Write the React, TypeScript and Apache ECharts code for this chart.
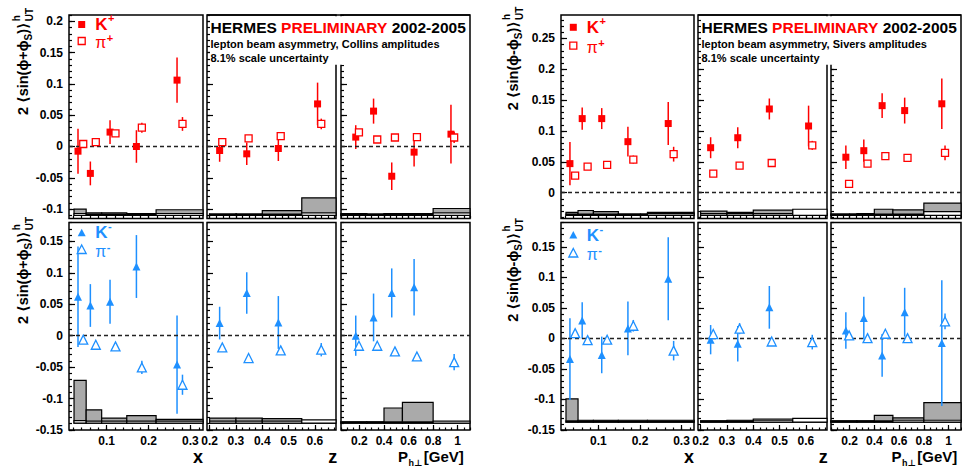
import React, { useEffect, useRef } from "react";
import * as echarts from "echarts";

const RED = "#ff0000";
const BLUE = "#1e90ff";
const FONT = "'Liberation Sans', Arial, Helvetica, 'DejaVu Sans', sans-serif";

// ---------- bin centres (kinematic variable of each point) ----------
const xK = [0.0315, 0.061, 0.108, 0.171, 0.268];
const xPi = [0.044, 0.074, 0.121, 0.184, 0.281];
const zK = [0.238, 0.341, 0.461, 0.610];
const zPi = [0.248, 0.348, 0.470, 0.624];
const pK = [0.170, 0.315, 0.463, 0.645, 0.945];
const pPi = [0.196, 0.345, 0.489, 0.668, 0.971];

// ---------- bin edges of the systematic bands ----------
const xEdges = [0.022, 0.051, 0.088, 0.148, 0.218, 0.33];
const zEdges = [0.2, 0.3, 0.4, 0.55, 0.68];
const pEdges = [0.05, 0.26, 0.4, 0.55, 0.8, 1.1];

// ---------- tick labels ----------
const xMajor = [0.1, 0.2, 0.3];
const zMajor = [0.2, 0.3, 0.4, 0.5, 0.6];
const pMajor = [0.2, 0.4, 0.6, 0.8, 1];
const yMajCollinsTop = [-0.1, -0.05, 0, 0.05, 0.1, 0.15, 0.2];
const yMajBottom = [-0.15, -0.1, -0.05, 0, 0.05, 0.1, 0.15];
const yMajSiversTop = [0, 0.05, 0.1, 0.15, 0.2, 0.25];

// ---------- Collins amplitudes ----------
const colKpX = [-0.0075, -0.043, 0.023, 0.0, 0.106];
const colKpXErr = [0.036, 0.019, 0.019, 0.026, 0.036];
const colKpZ = [-0.0064, -0.0117, -0.0032, 0.068];
const colKpZErr = [0.018, 0.018, 0.02, 0.034];
const colKpP = [0.015, 0.0565, -0.0475, -0.009, 0.0197];
const colKpPErr = [0.019, 0.02, 0.022, 0.023, 0.047];
const colPipX = [0.004, 0.007, 0.021, 0.03, 0.036];
const colPipXErr = [0.003, 0.003, 0.004, 0.008, 0.011];
const colPipZ = [0.007, 0.013, 0.0165, 0.036];
const colPipZErr = [0.003, 0.003, 0.003, 0.0085];
const colPipP = [0.0224, 0.0112, 0.0144, 0.015, 0.0144];
const colPipPErr = [0.003, 0.003, 0.003, 0.003, 0.009];

const colKmX = [0.062, 0.048, 0.054, 0.11, -0.046];
const colKmXErr = [0.08, 0.034, 0.035, 0.05, 0.078];
const colKmZ = [0.02, 0.068, 0.021];
const colKmZErr = [0.026, 0.033, 0.042];
const colKmP = [0.0, 0.029, 0.068, 0.077];
const colKmPErr = [0.032, 0.038, 0.039, 0.045];
const colPimX = [-0.0064, -0.0144, -0.017, -0.0505, -0.078];
const colPimXErr = [0.004, 0.004, 0.004, 0.0106, 0.016];
const colPimZ = [-0.0186, -0.0356, -0.0234, -0.0223];
const colPimZErr = [0.004, 0.004, 0.004, 0.0106];
const colPimP = [-0.016, -0.016, -0.025, -0.033, -0.042];
const colPimPErr = [0.004, 0.004, 0.004, 0.005, 0.013];

// systematic bands (heights above the band baseline)
const colSysKpX = [0.01, 0.004, 0.004, 0.003, 0.009];
const colSysPipX = [0.003, 0.002, 0.002, 0.002, 0.003];
const colSysKpZ = [0.002, 0.002, 0.0076, 0.028];
const colSysPipZ = [0.002, 0.002, 0.002, 0.004];
const colSysKpP = [0.003, 0.002, 0.003, 0.003, 0.011];
const colSysPipP = [0.002, 0.002, 0.002, 0.002, 0.004];
const colSysKmX = [0.068, 0.021, 0.008, 0.012, 0.006];
const colSysPimX = [0.004, 0.003, 0.003, 0.003, 0.003];
const colSysKmZ = [0.008, 0.008, 0.007, 0.0];
const colSysPimZ = [0.003, 0.003, 0.003, 0.005];
const colSysKmP = [0.002, 0.002, 0.024, 0.033, 0.0];
const colSysPimP = [0.002, 0.002, 0.002, 0.002, 0.003];

// ---------- Sivers amplitudes ----------
const sivKpX = [0.047, 0.12, 0.12, 0.0826, 0.112];
const sivKpXErr = [0.035, 0.018, 0.017, 0.024, 0.035];
const sivKpZ = [0.0728, 0.089, 0.1356, 0.108];
const sivKpZErr = [0.017, 0.017, 0.017, 0.033];
const sivKpP = [0.0574, 0.068, 0.141, 0.133, 0.144];
const sivKpPErr = [0.019, 0.018, 0.02, 0.021, 0.041];
const sivPipX = [0.0274, 0.042, 0.045, 0.0536, 0.0623];
const sivPipXErr = [0.004, 0.004, 0.004, 0.0065, 0.012];
const sivPipZ = [0.0307, 0.0438, 0.048, 0.0766];
const sivPipZErr = [0.003, 0.003, 0.003, 0.0073];
const sivPipP = [0.0143, 0.047, 0.059, 0.0564, 0.0645];
const sivPipPErr = [0.003, 0.003, 0.003, 0.004, 0.012];

const sivKmX = [-0.0338, 0.0295, -0.027, 0.0164, 0.098];
const sivKmXErr = [0.067, 0.03, 0.03, 0.044, 0.068];
const sivKmZ = [-0.002, -0.0087, 0.051];
const sivKmZErr = [0.024, 0.029, 0.035];
const sivKmP = [0.0131, 0.0334, -0.0279, 0.043, -0.0076];
const sivKmPErr = [0.03, 0.035, 0.035, 0.04, 0.103];
const sivPimX = [0.0088, -0.0027, -0.002, 0.0208, -0.02];
const sivPimXErr = [0.004, 0.004, 0.004, 0.0095, 0.016];
const sivPimZ = [0.0072, 0.016, -0.005, -0.006];
const sivPimZErr = [0.004, 0.009, 0.004, 0.012];
const sivPimP = [0.005, 0.0006, 0.0077, 0.0006, 0.0279];
const sivPimPErr = [0.004, 0.004, 0.004, 0.004, 0.013];

const sivSysKpX = [0.005, 0.008, 0.006, 0.002, 0.005];
const sivSysPipX = [0.002, 0.002, 0.002, 0.002, 0.003];
const sivSysKpZ = [0.007, 0.005, 0.0085, 0.003];
const sivSysPipZ = [0.003, 0.003, 0.003, 0.01];
const sivSysKpP = [0.002, 0.003, 0.01, 0.009, 0.02];
const sivSysPipP = [0.002, 0.002, 0.002, 0.002, 0.006];
const sivSysKmX = [0.038, 0.003, 0.003, 0.003, 0.003];
const sivSysPimX = [0.002, 0.002, 0.002, 0.002, 0.002];
const sivSysKmZ = [0.002, 0.003, 0.005, 0.0];
const sivSysPimZ = [0.002, 0.002, 0.003, 0.006];
const sivSysKmP = [0.002, 0.002, 0.011, 0.007, 0.032];
const sivSysPimP = [0.002, 0.002, 0.002, 0.003, 0.003];

function ticks(a: number, b: number, step: number) {
  const out: number[] = [];
  const n = Math.round((b - a) / step);
  for (let i = 0; i <= n; i++) out.push(+(a + i * step).toFixed(4));
  return out;
}

let ctx: CanvasRenderingContext2D | null = null;
function tw(text: string, size: number, weight = "bold") {
  if (!ctx) ctx = document.createElement("canvas").getContext("2d");
  ctx!.font = `${weight} ${size}px ${FONT}`;
  return ctx!.measureText(text).width;
}

function txt(x: number, y: number, text: string, size: number, fill = "#000", weight = "bold", align = "left") {
  return {
    type: "text",
    x,
    y,
    z: 101,
    silent: true,
    style: { text, fontSize: size, fontWeight: weight, fontFamily: FONT, fill, align, verticalAlign: "middle" },
  };
}

function yTitle(cx: number, yCenter: number, sign: string) {
  const big = 14.5;
  const small = 10;
  const s1 = `2 \u27E8sin(\u03D5${sign}\u03D5`;
  const s2 = ")\u27E9";
  const w1 = tw(s1, big);
  const wS = tw("S", small);
  const w2 = tw(s2, big);
  const wUT = tw("UT", small);
  const total = w1 + wS + w2 + 1 + wUT;
  const children = [
    txt(0, 0, s1, big),
    txt(w1, 5, "S", small),
    txt(w1 + wS, 0, s2, big),
    txt(w1 + wS + w2 + 1, -7, "h", small),
    txt(w1 + wS + w2 + 1, 6, "UT", small),
  ];
  return { type: "group", x: cx, y: yCenter + total / 2, rotation: Math.PI / 2, z: 101, children };
}

function histRender(fill: string) {
  return (params: any, api: any) => {
    const x0 = api.value(0);
    const x1 = api.value(1);
    const b = api.value(2);
    const h = api.value(3);
    const p0 = api.coord([x0, b]);
    const p1 = api.coord([x1, b + h]);
    return {
      type: "rect",
      shape: { x: p0[0], y: p1[1], width: p1[0] - p0[0], height: p0[1] - p1[1] },
      style: { fill, stroke: "#000", lineWidth: 1.2 },
    };
  };
}

function errRender(color: string) {
  return (params: any, api: any) => {
    const x = api.value(0);
    const y = api.value(1);
    const e = api.value(2);
    const a = api.coord([x, y - e]);
    const b = api.coord([x, y + e]);
    return {
      type: "line",
      shape: { x1: a[0], y1: a[1], x2: b[0], y2: b[1] },
      style: { stroke: color, lineWidth: 1.5 },
    };
  };
}

function buildOption() {
  const cols = [
    { min: 0.01, max: 0.33, major: xMajor, minor: ticks(0.02, 0.32, 0.02), kPos: xK, piPos: xPi, edges: xEdges },
    { min: 0.19, max: 0.68, major: zMajor, minor: ticks(0.2, 0.675, 0.025), kPos: zK, piPos: zPi, edges: zEdges },
    { min: 0.05, max: 1.1, major: pMajor, minor: ticks(0.05, 1.1, 0.05), kPos: pK, piPos: pPi, edges: pEdges },
  ];
  const rowTop = [15, 222.5];
  const rowH = [203.5, 207.5];

  const figs = [
    {
      left: [69, 207, 341],
      width: [134, 129, 129],
      rows: [
        {
          yMin: -0.115, yMax: 0.21, major: yMajCollinsTop, base: -0.11, color: RED, kSym: "rect", kSize: 7, piSym: "rect", piSize: 7,
          K: [colKpX, colKpZ, colKpP], KErr: [colKpXErr, colKpZErr, colKpPErr],
          Pi: [colPipX, colPipZ, colPipP], PiErr: [colPipXErr, colPipZErr, colPipPErr],
          sysK: [colSysKpX, colSysKpZ, colSysKpP], sysPi: [colSysPipX, colSysPipZ, colSysPipP],
        },
        {
          yMin: -0.15, yMax: 0.18, major: yMajBottom, base: -0.139, color: BLUE, kSym: "triangle", kSize: 8, piSym: "triangle", piSize: 9,
          K: [colKmX, colKmZ, colKmP], KErr: [colKmXErr, colKmZErr, colKmPErr],
          Pi: [colPimX, colPimZ, colPimP], PiErr: [colPimXErr, colPimZErr, colPimPErr],
          sysK: [colSysKmX, colSysKmZ, colSysKmP], sysPi: [colSysPimX, colSysPimZ, colSysPimP],
        },
      ],
    },
    {
      left: [561, 698, 831],
      width: [133, 129, 130],
      rows: [
        {
          yMin: -0.042, yMax: 0.288, major: yMajSiversTop, base: -0.037, color: RED, kSym: "rect", kSize: 7, piSym: "rect", piSize: 7,
          K: [sivKpX, sivKpZ, sivKpP], KErr: [sivKpXErr, sivKpZErr, sivKpPErr],
          Pi: [sivPipX, sivPipZ, sivPipP], PiErr: [sivPipXErr, sivPipZErr, sivPipPErr],
          sysK: [sivSysKpX, sivSysKpZ, sivSysKpP], sysPi: [sivSysPipX, sivSysPipZ, sivSysPipP],
        },
        {
          yMin: -0.15, yMax: 0.19, major: yMajBottom, base: -0.137, color: BLUE, kSym: "triangle", kSize: 8, piSym: "triangle", piSize: 9,
          K: [sivKmX, sivKmZ, sivKmP], KErr: [sivKmXErr, sivKmZErr, sivKmPErr],
          Pi: [sivPimX, sivPimZ, sivPimP], PiErr: [sivPimXErr, sivPimZErr, sivPimPErr],
          sysK: [sivSysKmX, sivSysKmZ, sivSysKmP], sysPi: [sivSysPimX, sivSysPimZ, sivSysPimP],
        },
      ],
    },
  ];

  const grid: any[] = [];
  const xAxis: any[] = [];
  const yAxis: any[] = [];
  const series: any[] = [];
  const fmt = (v: number) => String(+(+v).toFixed(3));
  const tickStyle = { color: "#000", width: 1.2 };
  let gi = 0;

  figs.forEach((fig) => {
    fig.rows.forEach((row, r) => {
      cols.forEach((col, c) => {
        grid.push({
          left: fig.left[c], width: fig.width[c], top: rowTop[r], height: rowH[r],
          show: true, borderColor: "#000", borderWidth: 1.5, backgroundColor: "transparent",
        });
        const xb = { type: "value", gridIndex: gi, min: col.min, max: col.max, position: "bottom", axisLine: { show: false, onZero: false }, splitLine: { show: false } };
        xAxis.push({
          ...xb,
          axisTick: { show: true, inside: true, length: 5, customValues: col.major, lineStyle: tickStyle },
          axisLabel: { show: r === 1, customValues: col.major, formatter: fmt, margin: 5, color: "#000", fontWeight: "bold", fontSize: 12, fontFamily: FONT },
        });
        xAxis.push({
          ...xb,
          axisTick: { show: true, inside: true, length: 2.5, customValues: col.minor, lineStyle: tickStyle },
          axisLabel: { show: false },
        });
        const yb = { type: "value", gridIndex: gi, min: row.yMin, max: row.yMax, position: "left", axisLine: { show: false, onZero: false }, splitLine: { show: false } };
        yAxis.push({
          ...yb,
          axisTick: { show: true, inside: true, length: 6, customValues: row.major, lineStyle: tickStyle },
          axisLabel: { show: c === 0, customValues: row.major, formatter: fmt, margin: 6, color: "#000", fontWeight: "bold", fontSize: 12, fontFamily: FONT },
        });
        yAxis.push({
          ...yb,
          axisTick: { show: true, inside: true, length: 3, customValues: ticks(Math.ceil(row.yMin * 100) / 100, Math.floor(row.yMax * 100) / 100, 0.01), lineStyle: tickStyle },
          axisLabel: { show: false },
        });

        const xi = 2 * gi;
        const yi = 2 * gi;
        const edges = col.edges;
        const sysK = row.sysK[c];
        const sysPi = row.sysPi[c];
        series.push({
          type: "custom", xAxisIndex: xi, yAxisIndex: yi, z: 2, silent: true,
          renderItem: histRender("#aaaaaa"), encode: { x: [0, 1], y: [2, 3] },
          data: sysK.map((h, i) => [edges[i], edges[i + 1], row.base, h]),
        });
        series.push({
          type: "custom", xAxisIndex: xi, yAxisIndex: yi, z: 3, silent: true,
          renderItem: histRender("#ffffff"), encode: { x: [0, 1], y: [2, 3] },
          data: sysPi.map((h, i) => [edges[i], edges[i + 1], row.base, h]),
        });
        const kv = row.K[c];
        const ke = row.KErr[c];
        const pv = row.Pi[c];
        const pe = row.PiErr[c];
        series.push({
          type: "custom", xAxisIndex: xi, yAxisIndex: yi, z: 4, silent: true,
          renderItem: errRender(row.color), encode: { x: 0, y: 1 },
          data: kv.map((v, i) => [col.kPos[i], v, ke[i]]),
        });
        series.push({
          type: "custom", xAxisIndex: xi, yAxisIndex: yi, z: 4, silent: true,
          renderItem: errRender(row.color), encode: { x: 0, y: 1 },
          data: pv.map((v, i) => [col.piPos[i], v, pe[i]]),
        });
        series.push({
          type: "scatter", xAxisIndex: xi, yAxisIndex: yi, z: 5, silent: true,
          symbol: row.kSym, symbolSize: row.kSize,
          itemStyle: { color: row.color, opacity: 1 },
          data: kv.map((v, i) => [col.kPos[i], v]),
          markLine: {
            silent: true, symbol: ["none", "none"], label: { show: false },
            lineStyle: { type: [4, 3], color: "#222", width: 1.3 },
            data: [{ yAxis: 0 }],
          },
        });
        series.push({
          type: "scatter", xAxisIndex: xi, yAxisIndex: yi, z: 5, silent: true,
          symbol: row.piSym, symbolSize: row.piSize,
          itemStyle: { color: "#ffffff", borderColor: row.color, borderWidth: 1.3, opacity: 1 },
          data: pv.map((v, i) => [col.piPos[i], v]),
        });
        gi++;
      });
    });
  });

  // ---------- graphic overlays: title panes, legends, axis titles ----------
  const g: any[] = [];
  const pane = (x0: number, x1: number, label: string) => {
    g.push({ type: "rect", z: 100, silent: true, shape: { x: x0 + 3, y: 16.3, width: x1 - x0 - 4.5, height: 48.4 }, style: { fill: "#fff" } });
    g.push({ type: "line", z: 100, silent: true, shape: { x1: x0, y1: 15, x2: x1, y2: 15 }, style: { stroke: "#000", lineWidth: 1.5 } });
    const tx = x0 + 3.5;
    const s = 15.5;
    const w1 = tw("HERMES ", s);
    const w2 = tw("PRELIMINARY", s);
    g.push(txt(tx, 27, "HERMES ", s));
    g.push(txt(tx + w1, 27, "PRELIMINARY", s, RED));
    g.push(txt(tx + w1 + w2, 27, " 2002-2005", s));
    g.push(txt(tx, 43.5, `lepton beam asymmetry, ${label} amplitudes`, 11));
    g.push(txt(tx, 57.5, "8.1% scale uncertainty", 11));
  };
  pane(207, 470, "Collins");
  pane(698, 961, "Sivers");

  const legend = (mx: number, yK: number, yPi: number, pos: boolean) => {
    const color = pos ? RED : BLUE;
    const sup = pos ? "+" : "-";
    if (pos) {
      g.push({ type: "rect", z: 101, silent: true, shape: { x: mx - 3.5, y: yK - 3.5, width: 7, height: 7 }, style: { fill: color } });
      g.push({ type: "rect", z: 101, silent: true, shape: { x: mx - 3.5, y: yPi - 3.5, width: 7, height: 7 }, style: { fill: "#fff", stroke: color, lineWidth: 1.3 } });
    } else {
      g.push({ type: "polygon", z: 101, silent: true, shape: { points: [[mx, yK - 4], [mx + 4, yK + 3.5], [mx - 4, yK + 3.5]] }, style: { fill: color } });
      g.push({ type: "polygon", z: 101, silent: true, shape: { points: [[mx, yPi - 4.5], [mx + 4.5, yPi + 4], [mx - 4.5, yPi + 4]] }, style: { fill: "#fff", stroke: color, lineWidth: 1.3 } });
    }
    const tx = mx + 13.5;
    const wK = tw("K", 17);
    g.push(txt(tx, yK, "K", 17, color));
    g.push(txt(tx + wK + 0.5, yK - 6.5, sup, 11, color));
    const wPi = tw("\u03C0", 16, "normal");
    g.push(txt(tx, yPi + 1.5, "\u03C0", 16, color, "normal"));
    g.push(txt(tx + wPi + 0.5, yPi - 3, sup, 11, color));
  };
  legend(81.7, 24.5, 41, true);
  legend(81.7, 232.7, 249.5, false);
  legend(573.3, 27.3, 45.7, true);
  legend(573.3, 235, 253, false);

  g.push(yTitle(23, 61.5, "+"));
  g.push(yTitle(23, 270.5, "+"));
  g.push(yTitle(513, 58.5, "-"));
  g.push(yTitle(513, 270, "-"));

  const xTitles = (xX: number, zX: number, pX: number) => {
    g.push(txt(xX, 456.5, "x", 18, "#000", "bold", "center"));
    g.push(txt(zX, 456.5, "z", 18, "#000", "bold", "center"));
    const wP = tw("P", 15);
    const wh = tw("h\u22A5", 9);
    g.push(txt(pX, 456, "P", 15));
    g.push(txt(pX + wP + 0.5, 462.5, "h\u22A5", 9));
    g.push(txt(pX + wP + wh + 2, 456, "[GeV]", 15));
  };
  xTitles(198, 332.7, 398);
  xTitles(689, 823.3, 891.5);

  return {
    animation: false,
    backgroundColor: "#fff",
    grid,
    xAxis,
    yAxis,
    series,
    graphic: { elements: g },
  };
}

export default function App() {
  const ref = useRef<HTMLDivElement>(null);
  useEffect(() => {
    const chart = echarts.init(ref.current!, null, { renderer: "svg" });
    chart.setOption(buildOption() as any);
    return () => chart.dispose();
  }, []);
  return (
    <div
      ref={ref}
      style={{ position: "absolute", left: 0, top: 0, width: 962, height: 467, background: "#fff" }}
    />
  );
}
